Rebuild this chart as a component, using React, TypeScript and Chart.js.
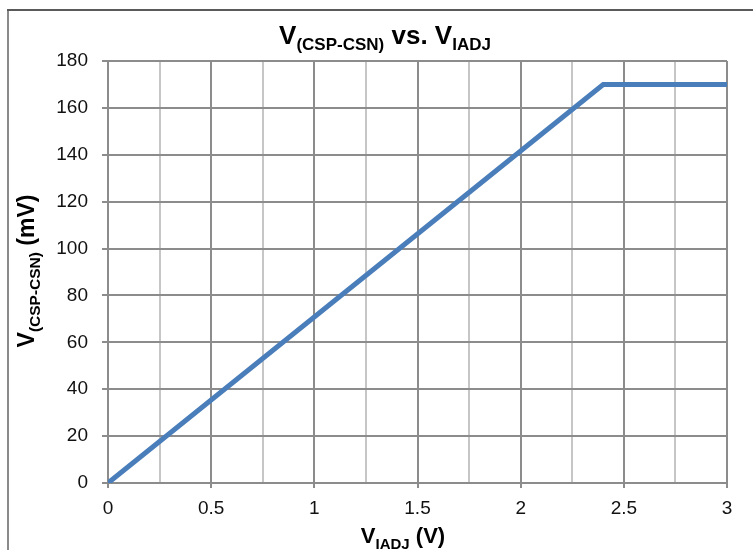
import React, { useEffect, useRef } from "react";
import { Chart, registerables } from "chart.js";

Chart.register(...registerables);

// Data
const seriesX: number[] = [0, 2.4, 3];
const seriesY: number[] = [0, 170, 170];
const xMin = 0, xMax = 3, xStep = 0.25;
const yMin = 0, yMax = 180, yStep = 20;

const FONT = "'Liberation Sans', Arial, sans-serif";

type Part = { text: string; size: number; dy: number };

function drawRich(ctx: CanvasRenderingContext2D, parts: Part[], cx: number, baseY: number) {
  let w = 0;
  for (const p of parts) {
    ctx.font = `bold ${p.size}px ${FONT}`;
    w += ctx.measureText(p.text).width;
  }
  let x = cx - w / 2;
  ctx.textAlign = "left";
  ctx.textBaseline = "alphabetic";
  for (const p of parts) {
    ctx.font = `bold ${p.size}px ${FONT}`;
    ctx.fillText(p.text, x, baseY + p.dy);
    x += ctx.measureText(p.text).width;
  }
}

const decor = {
  id: "decor",
  beforeDraw(chart: any) {
    const ctx = chart.ctx as CanvasRenderingContext2D;
    ctx.save();
    ctx.fillStyle = "#ffffff";
    ctx.fillRect(0, 0, chart.width, chart.height);
    // frame
    ctx.strokeStyle = "#8a8a8a";
    ctx.lineWidth = 2;
    ctx.beginPath();
    ctx.moveTo(8, chart.height + 5);
    ctx.lineTo(8, 10);
    ctx.stroke();
    ctx.strokeStyle = "#5a5a5a";
    ctx.beginPath();
    ctx.moveTo(7, 10);
    ctx.lineTo(chart.width + 5, 10);
    ctx.stroke();
    ctx.restore();
  },
  afterDraw(chart: any) {
    const ctx = chart.ctx as CanvasRenderingContext2D;
    ctx.save();
    ctx.fillStyle = "#000000";
    // title
    drawRich(
      ctx,
      [
        { text: "V", size: 26, dy: 0 },
        { text: "(CSP-CSN)", size: 17, dy: 6 },
        { text: " vs. V", size: 26, dy: 0 },
        { text: "IADJ", size: 17, dy: 6 },
      ],
      385,
      44
    );
    // x axis title
    drawRich(
      ctx,
      [
        { text: "V", size: 22, dy: 0 },
        { text: "IADJ", size: 15, dy: 6 },
        { text: " (V)", size: 22, dy: 0 },
      ],
      403,
      543
    );
    // y axis title
    ctx.translate(34, 271);
    ctx.rotate(-Math.PI / 2);
    drawRich(
      ctx,
      [
        { text: "V", size: 23, dy: 0 },
        { text: "(CSP-CSN)", size: 15.5, dy: 6 },
        { text: " (mV)", size: 23, dy: 0 },
      ],
      0,
      0
    );
    ctx.restore();
  },
};

const isMajor = (v: number) => Math.abs(v * 2 - Math.round(v * 2)) < 1e-6;

export default function App() {
  const ref = useRef<HTMLCanvasElement>(null);
  useEffect(() => {
    if (!ref.current) return;
    const chart = new Chart(ref.current, {
      type: "line",
      data: {
        datasets: [
          {
            data: seriesX.map((x, i) => ({ x, y: seriesY[i] })),
            borderColor: "#4a7ebb",
            borderWidth: 5,
            pointRadius: 0,
            tension: 0,
            fill: false,
          },
        ],
      },
      options: {
        animation: false,
        responsive: false,
        maintainAspectRatio: false,
        layout: { padding: { top: 61, right: 26, left: 0, bottom: 0 } },
        plugins: { legend: { display: false }, tooltip: { enabled: false }, title: { display: false } },
        scales: {
          x: {
            type: "linear",
            min: xMin,
            max: xMax,
            afterFit: (s: any) => {
              s.height = 67;
            },
            ticks: {
              stepSize: xStep,
              autoSkip: false,
              maxRotation: 0,
              padding: 9,
              color: "#111",
              font: { family: FONT, size: 19 },
              callback: (v: any) => (isMajor(Number(v)) ? String(Number(v)) : ""),
            },
            grid: {
              color: (c: any) => (isMajor(c.tick.value) ? "#8c8c8c" : "#c6c6c6"),
              tickColor: (c: any) => (isMajor(c.tick.value) ? "#8c8c8c" : "rgba(0,0,0,0)"),
              lineWidth: 2,
              tickLength: 5,
            },
            border: { display: true, color: "#8c8c8c", width: 2 },
          },
          y: {
            type: "linear",
            min: yMin,
            max: yMax,
            afterFit: (s: any) => {
              s.width = 108;
            },
            ticks: {
              stepSize: yStep,
              padding: 14,
              color: "#111",
              font: { family: FONT, size: 19 },
            },
            grid: { color: "#8c8c8c", lineWidth: 2, tickLength: 6 },
            border: { display: true, color: "#8c8c8c", width: 2 },
          },
        },
      },
      plugins: [decor],
    });
    return () => chart.destroy();
  }, []);
  return (
    <div style={{ position: "fixed", left: 0, top: 0, width: 753, height: 550 }}>
      <canvas ref={ref} width={753} height={550} style={{ display: "block" }} />
    </div>
  );
}
